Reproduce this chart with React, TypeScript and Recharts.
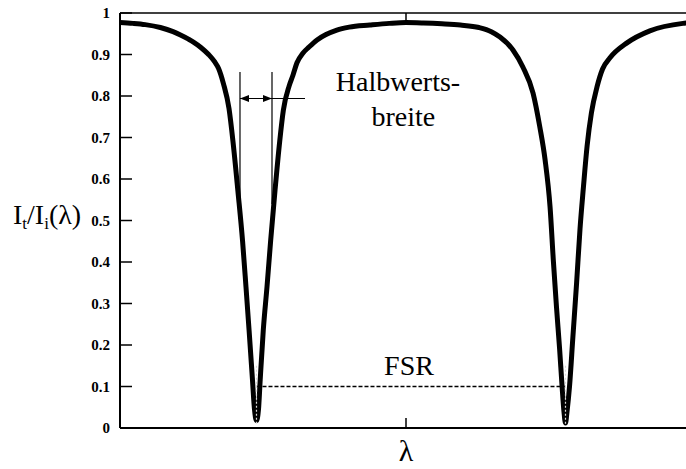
import { LineChart, Line, XAxis, YAxis, ReferenceDot } from "recharts";

// detuning in units of the free spectral range (dips at 0 and 1)
const lambda = [
  -0.4417, -0.4, -0.36, -0.311, -0.27, -0.246, -0.22, -0.204, -0.18, -0.155,
  -0.135, -0.123, -0.107, -0.089, -0.076, -0.06, -0.045, -0.034, -0.024, -0.013,
  -0.0065, 0, 0.0065, 0.012, 0.022, 0.034, 0.046, 0.06, 0.075, 0.087,
  0.106, 0.118, 0.131, 0.15, 0.17, 0.196, 0.225, 0.26, 0.3, 0.367,
  0.43, 0.484, 0.54, 0.6, 0.66, 0.72, 0.76, 0.788, 0.83, 0.862,
  0.895, 0.917, 0.934, 0.95, 0.961, 0.971, 0.981, 0.989, 0.995, 1.0,
  1.005, 1.013, 1.024, 1.036, 1.047, 1.058, 1.07, 1.084, 1.102, 1.12,
  1.144, 1.199, 1.273, 1.38, 1.4094,
];
const transmission = [
  0.977, 0.975, 0.972, 0.965, 0.955, 0.947, 0.937, 0.93, 0.917, 0.9,
  0.882, 0.867, 0.83, 0.77, 0.69, 0.57, 0.45, 0.34, 0.236, 0.116,
  0.045, 0.018, 0.045, 0.116, 0.236, 0.34, 0.453, 0.573, 0.69, 0.766,
  0.825, 0.85, 0.88, 0.903, 0.918, 0.935, 0.948, 0.959, 0.966, 0.971,
  0.975, 0.977, 0.976, 0.974, 0.971, 0.965, 0.955, 0.942, 0.911, 0.87,
  0.807, 0.725, 0.646, 0.533, 0.4, 0.29, 0.19, 0.1, 0.04, 0.012,
  0.04, 0.1, 0.22, 0.35, 0.48, 0.58, 0.68, 0.76, 0.822, 0.865,
  0.892, 0.928, 0.957, 0.975, 0.977,
];

const yTicks = [0, 0.1, 0.2, 0.3, 0.4, 0.5, 0.6, 0.7, 0.8, 0.9, 1];
const xDomain: [number, number] = [-0.4417, 1.4094];
const xTicks = [(xDomain[0] + xDomain[1]) / 2];

// annotations (data units)
const fsrDips = [0, 1];
const fsrLevel = 0.1;
const dipMarkRange = [0.15, 0.01];
const halfWidthEdges = [-0.0534, 0.0502];
const halfWidthRange = [0.858, 0.54];
const arrowLevel = 0.794;
const arrowEnd = 0.157;

const curve = lambda.map((x, i) => ({ x, y: transmission[i] }));
const fsrLine = fsrDips.map((x) => ({ x, y: fsrLevel }));
const vertical = (x: number, range: number[]) => range.map((y) => ({ x, y }));
const arrowBody = halfWidthEdges.map((x) => ({ x, y: arrowLevel }));
const arrowTail = [
  { x: halfWidthEdges[1], y: arrowLevel },
  { x: arrowEnd, y: arrowLevel },
];

const serif = "Liberation Serif";

function LeftTick(props: any) {
  const { x, y, payload } = props;
  return (
    <g>
      <line x1={x + 10} x2={x + 22} y1={y} y2={y} stroke="#000" strokeWidth={1.5} />
      <text x={x} y={y} dy="0.36em" textAnchor="end" fontFamily={serif} fontWeight="bold" fontSize={15} fill="#000">
        {payload.value}
      </text>
    </g>
  );
}

function RightTick(props: any) {
  const { x, y } = props;
  return <line x1={x - 12} x2={x} y1={y} y2={y} stroke="#000" strokeWidth={1.5} />;
}

function BottomTick(props: any) {
  const { x, y } = props;
  return <line x1={x} x2={x} y1={y} y2={y - 10} stroke="#000" strokeWidth={1.5} />;
}

function TopTick(props: any) {
  const { x, y } = props;
  return <line x1={x} x2={x} y1={y} y2={y + 10} stroke="#000" strokeWidth={1.5} />;
}

const renderYLabel = (props: any) => {
  const vb = props.viewBox;
  return (
    <text x={vb.x + 13} y={vb.y + vb.height / 2 + 3} fontFamily={serif} fontSize={28} fill="#000">
      I<tspan fontSize={17} dy={5}>t</tspan>
      <tspan dy={-5}>/I</tspan>
      <tspan fontSize={17} dy={5}>i</tspan>
      <tspan dy={-5}>(λ)</tspan>
    </text>
  );
};

const renderXLabel = (props: any) => {
  const vb = props.viewBox;
  return (
    <text x={vb.x + vb.width / 2} y={vb.y + 33} textAnchor="middle" fontFamily={serif} fontSize={30} fill="#000">
      λ
    </text>
  );
};

const arrowHead = (props: any) => {
  const { cx, cy, index } = props;
  const dir = index === 0 ? 1 : -1;
  return (
    <polygon
      key={`head-${index}`}
      points={`${cx},${cy} ${cx + dir * 9},${cy - 3.5} ${cx + dir * 9},${cy + 3.5}`}
      fill="#000"
    />
  );
};

const textLabel = (value: string) => ({
  content: (props: any) => {
    const vb = props.viewBox;
    return (
      <text
        x={vb.x + vb.width / 2}
        y={vb.y + vb.height / 2}
        dy="0.35em"
        textAnchor="middle"
        fontFamily={serif}
        fontSize={28}
        fill="#000"
      >
        {value}
      </text>
    );
  },
});

export default function App() {
  return (
    <div style={{ width: 686, height: 469, overflow: "hidden", background: "#fff" }}>
      <style>{"body{margin:0}"}</style>
      <LineChart width={700} height={469} margin={{ top: 12, right: 0, bottom: 0, left: 0 }}>
        <XAxis
          type="number"
          dataKey="x"
          domain={xDomain}
          allowDataOverflow
          ticks={xTicks}
          tick={BottomTick}
          tickLine={false}
          tickSize={0}
          tickMargin={0}
          height={41}
          axisLine={{ stroke: "#000", strokeWidth: 2 }}
          label={{ content: renderXLabel }}
        />
        <XAxis
          xAxisId="top"
          orientation="top"
          type="number"
          dataKey="x"
          domain={xDomain}
          allowDataOverflow
          ticks={xTicks}
          tick={TopTick}
          tickLine={false}
          tickSize={0}
          tickMargin={0}
          height={1}
          axisLine={{ stroke: "#000", strokeWidth: 1.5 }}
        />
        <YAxis
          type="number"
          domain={[0, 1]}
          ticks={yTicks}
          interval={0}
          tick={LeftTick}
          tickLine={false}
          tickSize={0}
          tickMargin={10}
          width={120}
          axisLine={{ stroke: "#000", strokeWidth: 2 }}
          label={{ content: renderYLabel }}
        />
        <YAxis
          yAxisId="right"
          orientation="right"
          type="number"
          domain={[0, 1]}
          ticks={yTicks}
          interval={0}
          tick={RightTick}
          tickLine={false}
          tickSize={0}
          tickMargin={0}
          width={8}
          axisLine={{ stroke: "#000", strokeWidth: 1.5 }}
        />

        <Line data={fsrLine} dataKey="y" type="linear" stroke="#000" strokeWidth={1.5} strokeDasharray="4 2" dot={false} activeDot={false} isAnimationActive={false} />
        {halfWidthEdges.map((x) => (
          <Line key={`hw-${x}`} data={vertical(x, halfWidthRange)} dataKey="y" type="linear" stroke="#000" strokeWidth={1.2} dot={false} activeDot={false} isAnimationActive={false} />
        ))}
        <Line data={curve} dataKey="y" type="monotoneX" stroke="#000" strokeWidth={5} strokeLinejoin="round" dot={false} activeDot={false} isAnimationActive={false} />
        {fsrDips.map((x) => (
          <Line key={`dip-${x}`} data={vertical(x, dipMarkRange)} dataKey="y" type="linear" stroke="#d8d8d8" strokeWidth={1.2} strokeDasharray="2 2" dot={false} activeDot={false} isAnimationActive={false} />
        ))}
        <Line data={arrowBody} dataKey="y" type="linear" stroke="#000" strokeWidth={1.2} dot={arrowHead} activeDot={false} isAnimationActive={false} />
        <Line data={arrowTail} dataKey="y" type="linear" stroke="#000" strokeWidth={1.2} dot={false} activeDot={false} isAnimationActive={false} />

        <ReferenceDot x={0.458} y={0.836} r={0} fill="none" stroke="none" label={textLabel("Halbwerts-")} />
        <ReferenceDot x={0.475} y={0.752} r={0} fill="none" stroke="none" label={textLabel("breite")} />
        <ReferenceDot x={0.4935} y={0.1506} r={0} fill="none" stroke="none" label={textLabel("FSR")} />
      </LineChart>
    </div>
  );
}
